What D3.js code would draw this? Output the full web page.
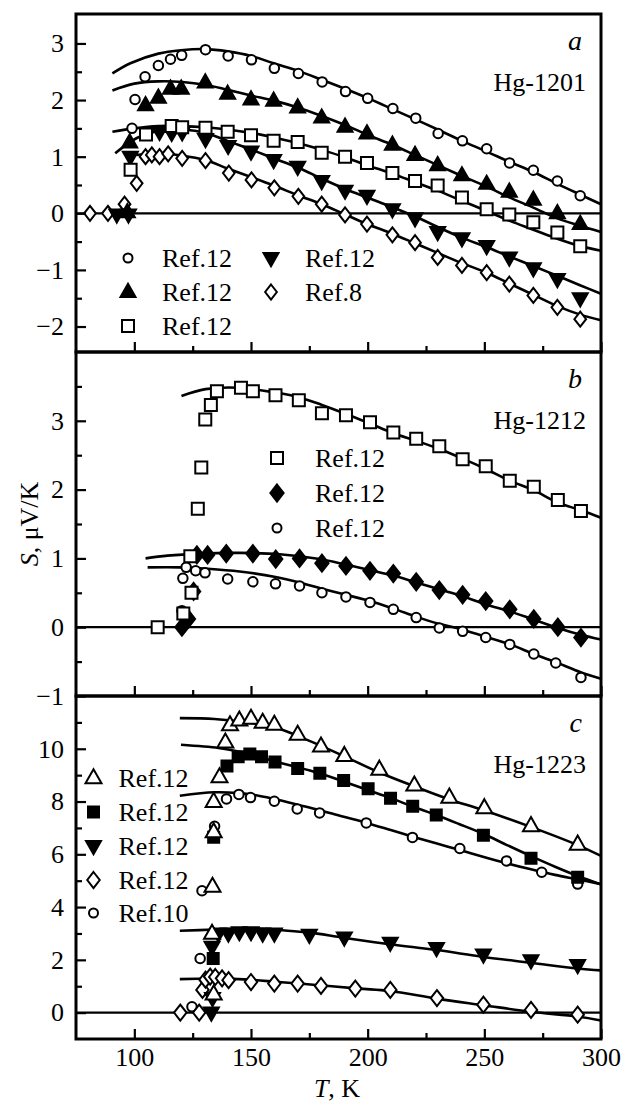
<!DOCTYPE html>
<html>
<head>
<meta charset="utf-8">
<script src="https://cdn.jsdelivr.net/npm/d3@7"></script>
<style>
  body { margin: 0; background: #fff; }
  svg text { font-family: "Liberation Serif", "Times New Roman", serif; fill: #000; }
</style>
</head>
<body>
<script>
// ---- data: [T (K), S (uV/K)] ----

// panel a, Hg-1201
const aCircle = [[99,1.5],[100.3,2.01],[104.6,2.41],[110.3,2.61],[115.5,2.72],[120.3,2.79],[130.5,2.89],[140.2,2.78],[150.2,2.71],[160,2.56],[170.3,2.47],[180.5,2.32],[190.5,2.15],[200,2.03],[210.8,1.85],[220.6,1.68],[230.2,1.41],[240.6,1.28],[251,1.14],[260.8,0.89],[271,0.76],[281.3,0.57],[291.1,0.31]];
const aCircleFit = [[90.6,2.47],[98.3,2.65],[110.3,2.82],[120,2.88],[130.4,2.9],[140,2.86],[150,2.78],[159.7,2.65],[170,2.52],[180.3,2.36],[190.3,2.2],[199.7,2.04],[210.6,1.84],[220.3,1.66],[230,1.48],[240.4,1.28],[251,1.09],[260.7,0.91],[271,0.73],[281.3,0.52],[291.1,0.33],[300,0.16]];
const aTriUp = [[97,0.02],[98,1.25],[104.8,1.91],[110.3,2.04],[115.5,2.2],[120.1,2.2],[130.4,2.31],[140,2.11],[150,2.01],[159.7,1.99],[170,1.87],[180.3,1.69],[190.3,1.53],[199.7,1.41],[210.6,1.21],[220.3,1.03],[230,0.85],[240.4,0.67],[251,0.52],[260.7,0.38],[271,0.24],[281.3,0.0],[291.1,-0.19]];
const aTriUpFit = [[90.6,2.17],[100,2.29],[110.3,2.33],[120.6,2.32],[130.4,2.27],[140,2.18],[150,2.08],[159.7,1.99],[170,1.87],[180.3,1.72],[190.3,1.56],[199.7,1.39],[210.6,1.21],[220.3,1.03],[230,0.85],[240.4,0.66],[251,0.47],[260.7,0.28],[271,0.1],[281.3,-0.09],[291.1,-0.22],[300,-0.33]];
const aSquare = [[98.4,0.77],[105,1.39],[116,1.54],[120.5,1.52],[130.5,1.51],[140,1.44],[150,1.38],[159.7,1.28],[170,1.26],[180.3,1.07],[190.3,1.0],[199.7,0.89],[210.6,0.71],[220.3,0.57],[230,0.49],[240.4,0.28],[251,0.07],[260.7,-0.02],[271,-0.16],[281.3,-0.34],[291.1,-0.58]];
const aSquareFit = [[90.6,1.44],[100,1.5],[110.3,1.54],[120.6,1.54],[130.4,1.52],[140,1.48],[150,1.42],[159.7,1.34],[170,1.24],[180.3,1.12],[190.3,0.99],[199.7,0.85],[210.6,0.7],[220.3,0.55],[230,0.4],[240.4,0.22],[251,0.04],[260.7,-0.13],[271,-0.29],[281.3,-0.45],[291.1,-0.58],[300,-0.66]];
const aTriDown = [[92.5,-0.02],[97.5,-0.02],[98.3,1.0],[110.8,1.44],[116,1.42],[120.5,1.43],[130.5,1.31],[140.2,1.19],[150,1.09],[159.7,0.94],[170,0.82],[180.3,0.57],[190.3,0.4],[199.7,0.31],[210.6,0.07],[220.3,-0.09],[230,-0.33],[240.4,-0.44],[251,-0.58],[260.7,-0.78],[271,-0.97],[281.3,-1.16],[291.1,-1.5]];
const aTriDownFit = [[91.8,1.06],[101.1,1.33],[111.1,1.46],[120.8,1.48],[130.7,1.42],[140.4,1.27],[150.4,1.12],[160.4,0.96],[170.5,0.8],[180.4,0.61],[190.4,0.43],[200.4,0.27],[211.1,0.1],[221.1,-0.07],[230.4,-0.25],[240.4,-0.43],[251.1,-0.6],[261.1,-0.77],[271,-0.93],[281,-1.1],[291,-1.27],[300,-1.42]];
const aDiamond = [[81,0],[88.7,0],[95.8,0.16],[101,0.53],[104.8,1.0],[107.5,1.03],[110.8,1.0],[114.5,1.05],[120.5,0.97],[130.5,0.93],[140.5,0.71],[150.2,0.59],[160,0.45],[170.3,0.3],[180.3,0.16],[190.3,-0.03],[199.7,-0.19],[210.6,-0.38],[220.3,-0.52],[230,-0.78],[240.4,-0.92],[251,-1.05],[260.7,-1.25],[271,-1.45],[281.3,-1.66],[291.1,-1.87]];
const aDiamondFit = [[100.9,1.03],[110.3,1.06],[120.1,1.02],[130.4,0.94],[140,0.79],[150,0.64],[159.7,0.49],[170,0.32],[180.3,0.16],[190.3,-0.02],[199.7,-0.19],[210.6,-0.36],[220.3,-0.53],[230,-0.7],[240.4,-0.88],[251,-1.05],[260.7,-1.24],[271,-1.44],[281.3,-1.64],[291.1,-1.79],[300,-1.89]];

// panel b, Hg-1212
const bSquare = [[110,0],[121,0.2],[124.5,0.5],[124,1.03],[127.2,1.72],[128.7,2.32],[130.4,3.02],[132.8,3.23],[135.4,3.43],[145.7,3.48],[150.8,3.43],[160.5,3.37],[170.5,3.3],[180.4,3.11],[190.7,3.08],[201,2.98],[211,2.83],[220.8,2.74],[230.7,2.63],[240.7,2.44],[250.6,2.34],[260.9,2.13],[271.2,2.04],[281.5,1.85],[291.4,1.69]];
const bSquareFit = [[120.2,3.36],[130.5,3.46],[145.1,3.48],[160.5,3.41],[170.8,3.34],[180.4,3.23],[190.7,3.1],[201,2.96],[211,2.82],[220.8,2.71],[230.7,2.59],[240.7,2.45],[250.6,2.3],[260.9,2.13],[271.2,1.99],[281.5,1.81],[291.4,1.7],[300,1.59]];
const bDiamond = [[120.4,0],[123.2,0.12],[125.4,0.52],[126.8,1.05],[131.4,1.05],[139.4,1.07],[150.8,1.07],[160.6,0.99],[170.8,1.0],[180.4,0.93],[190.7,0.89],[201,0.82],[211,0.78],[220.8,0.66],[230.7,0.54],[240.7,0.47],[250.6,0.38],[260.9,0.26],[271.2,0.12],[281.5,0.0],[291.4,-0.15]];
const bDiamondFit = [[104.8,1.0],[114.2,1.04],[128,1.07],[145.1,1.08],[162.3,1.06],[179.4,0.99],[190.7,0.91],[201,0.83],[211,0.75],[220.8,0.65],[230.7,0.55],[240.7,0.45],[250.6,0.33],[260.9,0.23],[271.2,0.11],[281.5,-0.01],[291.4,-0.11],[300,-0.18]];
const bCircle = [[120.4,0.24],[120.8,0.71],[122.2,0.87],[126.3,0.82],[130.3,0.79],[140,0.7],[150.8,0.66],[160.5,0.63],[170.8,0.6],[180.4,0.5],[190.7,0.44],[201,0.36],[211,0.26],[220.8,0.14],[230.7,-0.01],[240.7,-0.06],[250.6,-0.15],[260.9,-0.25],[271.2,-0.39],[280.6,-0.52],[291.4,-0.73]];
const bCircleFit = [[105.7,0.87],[119.4,0.87],[131.4,0.85],[145.1,0.81],[160.5,0.73],[170.8,0.65],[180.4,0.56],[190.7,0.47],[201,0.38],[211,0.27],[221,0.15],[230.4,0.05],[236.8,0.0],[249.7,-0.13],[261.1,-0.25],[271.2,-0.39],[281.5,-0.52],[291,-0.65],[300,-0.75]];

// panel c, Hg-1223
const cTriangle = [[134,0.7],[133.3,3.0],[133.5,4.78],[134,6.85],[134,8.0],[136.5,8.93],[139,10.25],[141,10.9],[145,11.08],[150,11.15],[155,11.0],[160,10.92],[170,10.54],[180,10.1],[190,9.74],[205,9.22],[220,8.62],[235,8.16],[250,7.76],[270,7.08],[290,6.38]];
const cTriangleFit = [[119.5,11.16],[134.3,11.13],[144.6,11.04],[160.1,10.82],[170,10.49],[180,10.11],[189.6,9.73],[204,9.14],[220.2,8.57],[234.8,8.09],[249.4,7.68],[269.6,7.05],[290,6.35],[300,5.94]];
const cSquare = [[133.8,2.05],[134,6.65],[139.7,9.35],[144.5,9.7],[149.5,9.8],[154.5,9.7],[160.3,9.5],[170,9.25],[179.5,9.07],[189.7,8.8],[200.2,8.48],[209.8,8.12],[219.3,7.82],[229.4,7.49],[249.6,6.72],[270,5.85],[290,5.13]];
const cSquareFit = [[120,10.15],[136.1,10.03],[144.6,9.9],[153.2,9.71],[161.8,9.48],[170,9.3],[180,9.05],[189.6,8.76],[199.9,8.44],[209.9,8.13],[219.3,7.81],[229.3,7.49],[239.1,7.15],[249.7,6.77],[259.7,6.35],[270,5.93],[280.3,5.53],[290,5.18],[300,4.86]];
const cTriDown = [[133,0.0],[133.5,0.55],[133.3,2.5],[136,3.0],[140.3,3.0],[145,3.05],[150,3.05],[155,3.0],[160,3.0],[175,2.95],[190,2.85],[209.7,2.65],[229.5,2.45],[249.6,2.2],[270,1.98],[290,1.8]];
const cTriDownFit = [[119.5,3.1],[134.3,3.15],[144.6,3.19],[153.2,3.19],[161.8,3.13],[174.7,3.04],[189.6,2.84],[209.5,2.59],[229.6,2.37],[249.7,2.11],[270,1.89],[290,1.67],[300,1.6]];
const cDiamond = [[119.7,0],[127.8,0],[129.2,0.86],[130.5,1.25],[132.5,1.36],[134.7,1.35],[137.6,1.3],[140.4,1.23],[150,1.16],[160,1.1],[170,1.1],[180,1.01],[194.7,0.91],[209.7,0.86],[229.7,0.55],[249.6,0.3],[270,0.1],[290,-0.08]];
const cDiamondFit = [[119.5,1.27],[134.3,1.29],[149.3,1.25],[161.8,1.16],[179,1.04],[196.1,0.91],[209.5,0.82],[229.6,0.53],[249.7,0.28],[270,0.03],[290,-0.15],[300,-0.3]];
const cCircle = [[124.7,0.22],[128.2,2.05],[129,4.62],[134.4,7.06],[139.5,8.1],[144.8,8.27],[149.8,8.15],[160,8.01],[169.8,7.72],[179.4,7.57],[199.4,7.19],[219.2,6.64],[239.5,6.22],[259.5,5.75],[274.6,5.32],[290,4.87]];
const cCircleFit = [[119.5,8.22],[134.3,8.35],[144.6,8.32],[153.2,8.22],[161.8,8.06],[170.4,7.87],[179,7.68],[189.3,7.43],[199.2,7.2],[209.9,6.92],[219.3,6.67],[229.3,6.42],[239.6,6.16],[249.4,5.91],[259.7,5.66],[270,5.43],[280.3,5.22],[290,5.05],[300,4.87]];

// ticks and labels
const xMajor = [100, 150, 200, 250, 300];
const xMinor = [125, 175, 225, 275];
const aMajor = [-2, -1, 0, 1, 2, 3];
const aMinor = [-1.5, -0.5, 0.5, 1.5, 2.5];
const bMajor = [-1, 0, 1, 2, 3];
const bMinor = [-0.5, 0.5, 1.5, 2.5, 3.5];
const cMajor = [0, 2, 4, 6, 8, 10];
const cMinor = [1, 3, 5, 7, 9, 11];
const aLegend = ["Ref.12", "Ref.12", "Ref.12", "Ref.12", "Ref.8"];
const bLegend = ["Ref.12", "Ref.12", "Ref.12"];
const cLegend = ["Ref.12", "Ref.12", "Ref.12", "Ref.12", "Ref.10"];

// ---- drawing ----
const W = 626, H = 1103;
const left = 76, right = 601;

const svg = d3.select("body").append("svg")
  .attr("width", W).attr("height", H)
  .attr("viewBox", [0, 0, W, H]);

const x = d3.scaleLinear().domain([75, 300]).range([left, right]);

// marker shapes (size = bounding size in px)
const triUp = { draw(ctx, s) { const h = s * 0.88; ctx.moveTo(0, -h * 0.62); ctx.lineTo(s / 2, h * 0.38); ctx.lineTo(-s / 2, h * 0.38); ctx.closePath(); } };
const triDown = { draw(ctx, s) { const h = s * 0.88; ctx.moveTo(0, h * 0.62); ctx.lineTo(s / 2, -h * 0.38); ctx.lineTo(-s / 2, -h * 0.38); ctx.closePath(); } };
const square = { draw(ctx, s) { ctx.rect(-s / 2, -s / 2, s, s); } };
const diamond = { draw(ctx, s) { const hh = s / 2, hw = hh * 0.78; ctx.moveTo(0, -hh); ctx.lineTo(hw, 0); ctx.lineTo(0, hh); ctx.lineTo(-hw, 0); ctx.closePath(); } };
const circle = { draw(ctx, s) { ctx.moveTo(s / 2, 0); ctx.arc(0, 0, s / 2, 0, 2 * Math.PI); } };

const styles = {
  circle:   { type: circle,  fill: "#fff" },
  triUp:    { type: triUp,   fill: "#000" },
  triUpO:   { type: triUp,   fill: "#fff" },
  triDown:  { type: triDown, fill: "#000" },
  square:   { type: square,  fill: "#fff" },
  squareF:  { type: square,  fill: "#000" },
  diamond:  { type: diamond, fill: "#fff" },
  diamondF: { type: diamond, fill: "#000" }
};

const panels = [
  {
    name: "Hg-1201", letter: "a", top: 14, bottom: 352, domain: [-2.45, 3.52],
    major: aMajor, minor: aMinor,
    series: [
      { data: aDiamond, fit: aDiamondFit, mark: "diamond", size: 15 },
      { data: aTriDown, fit: aTriDownFit, mark: "triDown", size: 15 },
      { data: aSquare, fit: aSquareFit, mark: "square", size: 12 },
      { data: aTriUp, fit: aTriUpFit, mark: "triUp", size: 15 },
      { data: aCircle, fit: aCircleFit, mark: "circle", size: 9.5 }
    ],
    legend: [
      { mark: "circle", size: 9, x: 128, y: 258, text: aLegend[0] },
      { mark: "triUp", size: 15, x: 128, y: 292, text: aLegend[1] },
      { mark: "square", size: 12, x: 128, y: 326, text: aLegend[2] },
      { mark: "triDown", size: 15, x: 271, y: 258, text: aLegend[3] },
      { mark: "diamond", size: 15, x: 271, y: 292, text: aLegend[4] }
    ],
    legendTextDx: 34
  },
  {
    name: "Hg-1212", letter: "b", top: 352, bottom: 696, domain: [-1, 4],
    major: bMajor, minor: bMinor,
    series: [
      { data: bCircle, fit: bCircleFit, mark: "circle", size: 9.5 },
      { data: bDiamond, fit: bDiamondFit, mark: "diamondF", size: 17 },
      { data: bSquare, fit: bSquareFit, mark: "square", size: 12 }
    ],
    legend: [
      { mark: "square", size: 12, x: 277, y: 458, text: bLegend[0] },
      { mark: "diamondF", size: 17, x: 277, y: 493, text: bLegend[1] },
      { mark: "circle", size: 9, x: 277, y: 528, text: bLegend[2] }
    ],
    legendTextDx: 38
  },
  {
    name: "Hg-1223", letter: "c", top: 696, bottom: 1039, domain: [-1, 12],
    major: cMajor, minor: cMinor,
    series: [
      { data: cCircle, fit: cCircleFit, mark: "circle", size: 9.5 },
      { data: cDiamond, fit: cDiamondFit, mark: "diamond", size: 16 },
      { data: cTriDown, fit: cTriDownFit, mark: "triDown", size: 15 },
      { data: cSquare, fit: cSquareFit, mark: "squareF", size: 11 },
      { data: cTriangle, fit: cTriangleFit, mark: "triUpO", size: 16 }
    ],
    legend: [
      { mark: "triUpO", size: 16, x: 93.5, y: 778, text: cLegend[0] },
      { mark: "squareF", size: 11, x: 93.5, y: 812, text: cLegend[1] },
      { mark: "triDown", size: 15, x: 93.5, y: 846, text: cLegend[2] },
      { mark: "diamond", size: 16, x: 93.5, y: 880, text: cLegend[3] },
      { mark: "circle", size: 9, x: 93.5, y: 913, text: cLegend[4] }
    ],
    legendTextDx: 25
  }
];

const fmt = d => d3.format("d")(d);

function symbolPath(mark, size) {
  return d3.symbol(styles[mark].type, size)();
}

panels.forEach((p, i) => {
  const y = d3.scaleLinear().domain(p.domain).range([p.bottom, p.top]);
  const g = svg.append("g");

  // zero line
  g.append("line")
    .attr("x1", left).attr("x2", right)
    .attr("y1", y(0)).attr("y2", y(0))
    .attr("stroke", "#000").attr("stroke-width", 2.2);

  // fitted curves
  const line = d3.line()
    .x(d => x(d[0])).y(d => y(d[1]))
    .curve(d3.curveCatmullRom.alpha(0.5));
  g.selectAll(".fit").data(p.series).join("path")
    .attr("class", "fit")
    .attr("d", s => line(s.fit))
    .attr("fill", "none").attr("stroke", "#000").attr("stroke-width", 2.6);

  // data points
  p.series.forEach(s => {
    g.append("g").selectAll("path").data(s.data).join("path")
      .attr("transform", d => `translate(${x(d[0])},${y(d[1])})`)
      .attr("d", symbolPath(s.mark, s.size))
      .attr("fill", styles[s.mark].fill)
      .attr("stroke", "#000").attr("stroke-width", 2);
  });

  // y axis (ticks inside)
  g.append("g").attr("transform", `translate(${left},0)`)
    .call(d3.axisLeft(y).tickValues(p.major).tickFormat(fmt).tickSize(-10).tickPadding(12));
  g.append("g").attr("transform", `translate(${left},0)`)
    .call(d3.axisLeft(y).tickValues(p.minor).tickFormat("").tickSize(-6));

  // x axis at the bottom of each panel (ticks inside)
  g.append("g").attr("transform", `translate(0,${p.bottom})`)
    .call(d3.axisBottom(x).tickValues(xMajor).tickFormat(i === 2 ? fmt : "").tickSize(-10).tickPadding(9));
  g.append("g").attr("transform", `translate(0,${p.bottom})`)
    .call(d3.axisBottom(x).tickValues(xMinor).tickFormat("").tickSize(-6));

  g.selectAll(".domain").remove();
  g.selectAll(".tick line").attr("stroke-width", 2.2);
  g.selectAll(".tick text")
    .attr("font-family", '"Liberation Serif", "Times New Roman", serif')
    .attr("font-size", 26);

  // frame
  g.append("rect")
    .attr("x", left).attr("y", p.top)
    .attr("width", right - left).attr("height", p.bottom - p.top)
    .attr("fill", "none").attr("stroke", "#000").attr("stroke-width", 3);

  // panel letter and compound name
  g.append("text")
    .attr("x", 582).attr("y", p.top + 36)
    .attr("text-anchor", "end").attr("font-size", 28).attr("font-style", "italic")
    .text(p.letter);
  g.append("text")
    .attr("x", 586).attr("y", p.top + 77)
    .attr("text-anchor", "end").attr("font-size", 26)
    .text(p.name);

  // legend
  const lg = g.append("g");
  p.legend.forEach(e => {
    lg.append("path")
      .attr("transform", `translate(${e.x},${e.y})`)
      .attr("d", symbolPath(e.mark, e.size))
      .attr("fill", styles[e.mark].fill)
      .attr("stroke", "#000").attr("stroke-width", 2);
    lg.append("text")
      .attr("x", e.x + p.legendTextDx).attr("y", e.y)
      .attr("dy", "0.35em").attr("font-size", 26)
      .text(e.text);
  });
});

// axis titles
const yl = svg.append("text")
  .attr("transform", "translate(38,524) rotate(-90)")
  .attr("text-anchor", "middle").attr("font-size", 26);
yl.append("tspan").attr("font-style", "italic").text("S");
yl.append("tspan").text(", μV/K");

const xl = svg.append("text")
  .attr("x", 337).attr("y", 1097)
  .attr("text-anchor", "middle").attr("font-size", 26);
xl.append("tspan").attr("font-style", "italic").text("T");
xl.append("tspan").text(", K");
</script>
</body>
</html>
